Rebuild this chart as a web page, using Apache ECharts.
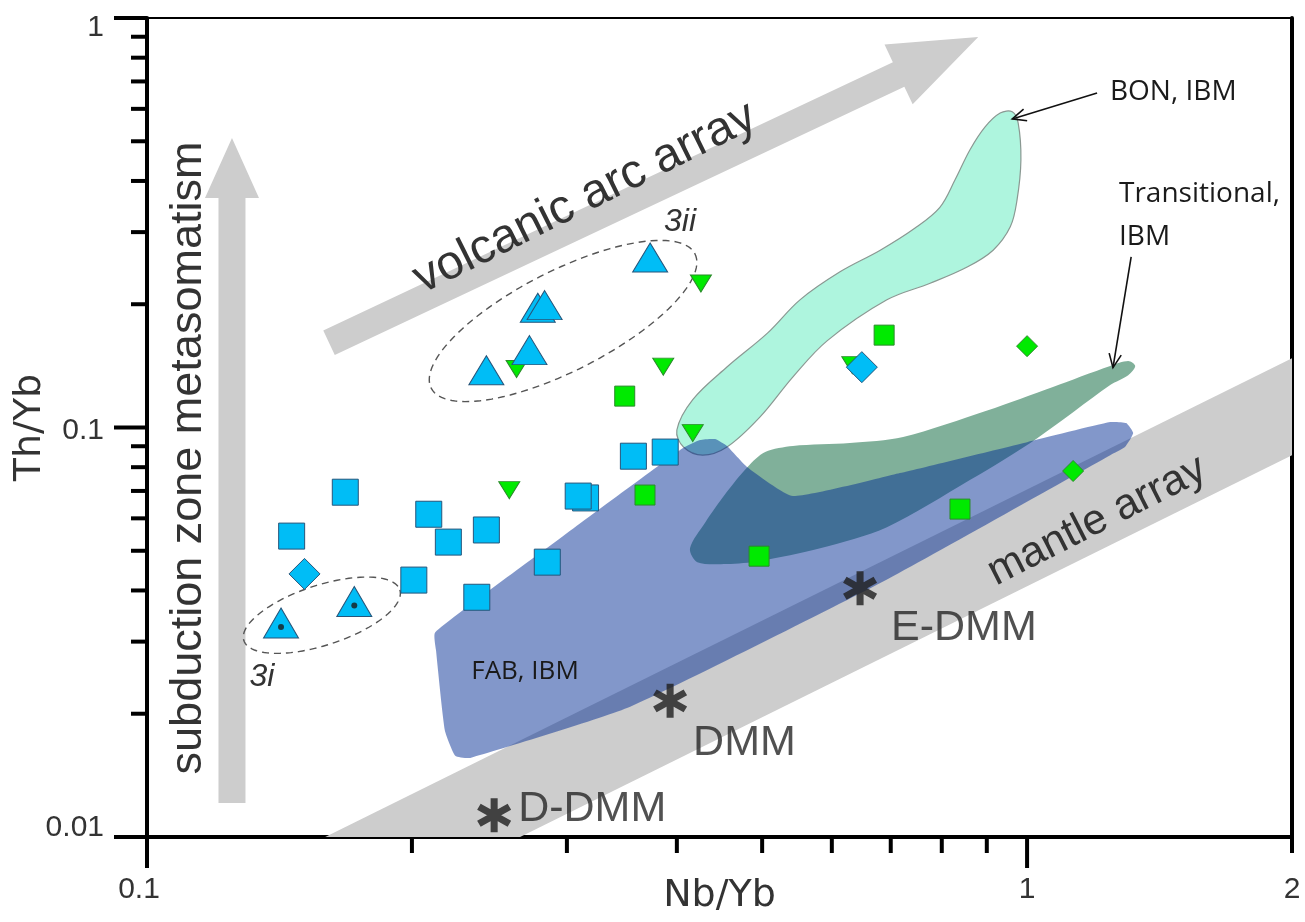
<!DOCTYPE html>
<html>
<head>
<meta charset="utf-8">
<script src="https://cdn.jsdelivr.net/npm/echarts@6/dist/echarts.min.js"></script>
<style>
  html, body { margin: 0; padding: 0; background: #fff; }
  #chart { width: 1305px; height: 922px; }
</style>
</head>
<body>
<div id="chart"></div>
<script>
// ---- Sample compositions: [Nb/Yb, Th/Yb] ----
const blueSquares = [
  [0.146, 0.0543], [0.168, 0.0695], [0.209, 0.0614], [0.220, 0.0525],
  [0.243, 0.0562], [0.201, 0.0424], [0.237, 0.0385], [0.285, 0.0469],
  [0.315, 0.0673], [0.309, 0.0680], [0.357, 0.0851], [0.388, 0.0871]
];
const blueDiamonds = [[0.151, 0.0439], [0.649, 0.1404]];
const blueTriangles = [[0.373, 0.260], [0.278, 0.196], [0.283, 0.199], [0.272, 0.1545], [0.243, 0.138]];
const blueTrianglesDotted = [[0.142, 0.0333], [0.172, 0.0376]];
const greenInvTriangles = [[0.263, 0.139], [0.386, 0.1408], [0.426, 0.2247], [0.258, 0.0703], [0.417, 0.0969], [0.633, 0.142]];
const greenSquares = [[0.349, 0.1193], [0.368, 0.0684], [0.496, 0.0485], [0.688, 0.1681], [0.839, 0.0632]];
const greenDiamonds = [[1.00, 0.158], [1.128, 0.0783]];

// ---- Mantle end-members ----
const endMemberNames = ['DMM', 'E-DMM', 'D-DMM'];
const endMemberValues = [[0.393, 0.0215], [0.646, 0.0405], [0.248, 0.0113]];

// ---- Axis ticks ----
const xMajorTicks = [0.1, 1];
const xMinorTicks = [0.2, 0.3, 0.4, 0.5, 0.6, 0.7, 0.8, 0.9, 2];
const yMajorTicks = [0.01, 0.1, 1];
const yMinorTicks = [0.02, 0.03, 0.04, 0.05, 0.06, 0.07, 0.08, 0.09, 0.2, 0.3, 0.4, 0.5, 0.6, 0.7, 0.8, 0.9];
const xTickValues = [0.1, 1, 2];
const xTickLabels = ['0.1', '1', '2'];
const yTickValues = [0.01, 0.1, 1];
const yTickLabels = ['0.01', '0.1', '1'];

// ---- Reference fields (outlines in Nb/Yb, Th/Yb) ----
const fabField = [
  [0.2125, 0.0316], [0.295, 0.0537], [0.4065, 0.0891], [0.425, 0.0932], [0.442, 0.0937],
  [0.456, 0.0901], [0.481, 0.0800], [0.542, 0.0680], [0.717, 0.0774], [1.000, 0.0921],
  [1.243, 0.1031], [1.296, 0.1025], [1.320, 0.0969], [1.292, 0.0896], [1.243, 0.0856],
  [0.681, 0.0417], [0.354, 0.0208], [0.233, 0.0156], [0.224, 0.0158], [0.218, 0.0182],
  [0.213, 0.0286]
];
const transitionalField = [
  [0.422, 0.0469], [0.414, 0.0507], [0.431, 0.0587], [0.454, 0.0688], [0.481, 0.0800],
  [0.504, 0.0871], [0.542, 0.0901], [0.629, 0.0916], [0.723, 0.0948], [0.901, 0.110],
  [1.070, 0.1256], [1.243, 0.1413], [1.303, 0.1453], [1.327, 0.1413], [1.303, 0.1342],
  [1.243, 0.127], [1.027, 0.0942], [0.861, 0.0744], [0.693, 0.0571], [0.582, 0.0507],
  [0.497, 0.0472], [0.456, 0.0464]
];
const bonField = [
  [0.962, 0.590], [0.977, 0.554], [0.984, 0.450], [0.974, 0.359], [0.957, 0.309],
  [0.915, 0.271], [0.855, 0.2465], [0.776, 0.225], [0.693, 0.205], [0.593, 0.163],
  [0.542, 0.133], [0.497, 0.106], [0.456, 0.0896], [0.428, 0.0856], [0.407, 0.0896],
  [0.400, 0.0986], [0.417, 0.117], [0.456, 0.1405], [0.507, 0.170], [0.552, 0.205],
  [0.613, 0.240], [0.681, 0.271], [0.746, 0.307], [0.796, 0.345], [0.828, 0.402],
  [0.861, 0.476], [0.896, 0.542], [0.932, 0.586]
];
const mantleArray = [[0.1594, 0.01], [0.2654, 0.01], [2, 0.0856], [2, 0.1477]];

// Trend arrows: [tail, tip]
const volcanicArcArrow = [[0.161, 0.161], [0.880, 0.899]];
const metasomatismArrow = [[0.1249, 0.0121], [0.1249, 0.509]];

// Group outlines (centres) and callout pointers [from, to]
const group3i = [0.158, 0.0348];
const group3ii = [0.297, 0.182];
const bonPointer = [[1.201, 0.656], [0.962, 0.567]];
const transitionalPointer = [[1.313, 0.261], [1.252, 0.140]];

const X_MIN = 0.1, X_MAX = 2, Y_MIN = 0.01, Y_MAX = 1;
const SANS = 'Liberation Sans, Arial, sans-serif';
const UI = 'Open Sans, Noto Sans, sans-serif';
const GREY = '#cdcdcd';

function polygonRender(outline, style, smooth) {
  return function (params, api) {
    const pts = outline.map(p => api.coord(p));
    return { type: 'polygon', shape: { points: pts, smooth: smooth || 0 }, style: style };
  };
}

function arrowRender(tail, tip, shaftW, headW, headLen) {
  return function (params, api) {
    const a = api.coord(tail), b = api.coord(tip);
    const dx = b[0] - a[0], dy = b[1] - a[1], L = Math.hypot(dx, dy);
    const ux = dx / L, uy = dy / L, nx = -uy, ny = ux;
    const hb = [b[0] - ux * headLen, b[1] - uy * headLen];
    const s = shaftW / 2, h = headW / 2;
    const pts = [
      [a[0] + nx * s, a[1] + ny * s], [hb[0] + nx * s, hb[1] + ny * s], [hb[0] + nx * h, hb[1] + ny * h],
      b, [hb[0] - nx * h, hb[1] - ny * h], [hb[0] - nx * s, hb[1] - ny * s], [a[0] - nx * s, a[1] - ny * s]
    ];
    return { type: 'polygon', shape: { points: pts }, style: { fill: GREY } };
  };
}

function ellipseRender(center, rx, ry, angleDeg) {
  return function (params, api) {
    const c = api.coord(center);
    const t = -angleDeg * Math.PI / 180;
    const pts = [];
    for (let i = 0; i < 120; i++) {
      const f = i / 120 * 2 * Math.PI;
      const ex = rx * Math.cos(f), ey = ry * Math.sin(f);
      pts.push([c[0] + ex * Math.cos(t) - ey * Math.sin(t), c[1] + ex * Math.sin(t) + ey * Math.cos(t)]);
    }
    return { type: 'polygon', shape: { points: pts }, style: { fill: null, stroke: '#555', lineWidth: 1.4, lineDash: [7, 5] } };
  };
}

function pointerRender(from, to) {
  return function (params, api) {
    const a = api.coord(from), b = api.coord(to);
    const ang = Math.atan2(a[1] - b[1], a[0] - b[0]);
    const hl = 15, spread = 0.42;
    const h1 = [b[0] + hl * Math.cos(ang + spread), b[1] + hl * Math.sin(ang + spread)];
    const h2 = [b[0] + hl * Math.cos(ang - spread), b[1] + hl * Math.sin(ang - spread)];
    return {
      type: 'group', children: [
        { type: 'line', shape: { x1: a[0], y1: a[1], x2: b[0], y2: b[1] }, style: { stroke: '#111', lineWidth: 1.6 } },
        { type: 'polyline', shape: { points: [h1, b, h2] }, style: { stroke: '#111', lineWidth: 1.6, fill: null } }
      ]
    };
  };
}

function shapeSeries(name, anchor, render, z) {
  return { type: 'custom', name: name, data: [anchor], renderItem: render, z: z, silent: true, animation: false };
}

function tickSeries(values, onX, len) {
  return {
    type: 'custom', z: 20, silent: true, animation: false,
    data: values.map(v => onX ? [v, Y_MIN] : [X_MIN, v]),
    renderItem: function (params, api) {
      const c = api.coord([api.value(0), api.value(1)]);
      const shape = onX ? { x1: c[0], y1: c[1], x2: c[0], y2: c[1] + len }
                        : { x1: c[0], y1: c[1], x2: c[0] - len, y2: c[1] };
      return { type: 'line', shape: shape, style: { stroke: '#000', lineWidth: 4 } };
    }
  };
}

function tickLabelSeries(values, labels, onX) {
  return {
    type: 'custom', z: 20, silent: true, animation: false,
    data: values.map(v => onX ? [v, Y_MIN] : [X_MIN, v]),
    renderItem: function (params, api) {
      const v = onX ? api.value(0) : api.value(1);
      const c = api.coord([api.value(0), api.value(1)]);
      const text = labels[params.dataIndex];
      let x, y, align;
      if (onX) {
        x = c[0] + (v === X_MIN ? -8 : 0); y = c[1] + 53; align = 'center';
      } else {
        x = c[0] - 43; y = c[1] + (v === Y_MAX ? 10 : v === Y_MIN ? -9 : 3); align = 'right';
      }
      return { type: 'text', x: x, y: y, style: { text: text, fontSize: 30, fontFamily: SANS, fill: '#333', align: align, verticalAlign: 'middle' } };
    }
  };
}

function scatter(name, data, symbol, size, fill, border, extra) {
  return Object.assign({
    type: 'scatter', name: name, data: data, symbol: symbol, symbolSize: size, z: 10, silent: true, animation: false,
    itemStyle: { color: fill, borderColor: border, borderWidth: 1, opacity: 1 }
  }, extra || {});
}

const BLUE = '#00bdf6', BLUE_EDGE = '#27557a';
const GREEN = '#00ea00', GREEN_EDGE = '#2b8a2b';
// six-armed asterisk used for the mantle end-members
const ASTERISK = 'path://M-2,-10L2,-10L2,10L-2,10Z M7.66,-6.73L9.66,-3.27L-7.66,6.73L-9.66,3.27Z M-9.66,-3.27L-7.66,-6.73L9.66,3.27L7.66,6.73Z';
const endMemberLabelOffset = { 'DMM': [6, 42], 'E-DMM': [14, 40], 'D-DMM': [7, -6] };

const option = {
  backgroundColor: '#fff',
  animation: false,
  grid: { left: 147, right: 13, top: 18, bottom: 85, show: true, borderColor: '#000', borderWidth: 2, backgroundColor: 'transparent' },
  xAxis: {
    type: 'log', logBase: 10, min: X_MIN, max: X_MAX,
    name: 'Nb/Yb', nameLocation: 'middle', nameGap: 40,
    nameTextStyle: { fontSize: 38, fontFamily: 'DejaVu Sans, sans-serif', color: '#333' },
    axisLine: { onZero: false, lineStyle: { color: '#000', width: 4 } },
    axisTick: { show: false }, axisLabel: { show: false }, splitLine: { show: false }, minorTick: { show: false }
  },
  yAxis: [{
    type: 'log', logBase: 10, min: Y_MIN, max: Y_MAX,
    name: 'Th/Yb', nameLocation: 'middle', nameGap: 98,
    nameTextStyle: { fontSize: 38, fontFamily: 'DejaVu Sans, sans-serif', color: '#333' },
    axisLine: { onZero: false, lineStyle: { color: '#000', width: 4 } },
    axisTick: { show: false }, axisLabel: { show: false }, splitLine: { show: false }, minorTick: { show: false }
  }, {
    type: 'log', logBase: 10, min: Y_MIN, max: Y_MAX, position: 'right',
    axisLine: { show: true, onZero: false, lineStyle: { color: '#000', width: 4 } },
    axisTick: { show: false }, axisLabel: { show: false }, splitLine: { show: false }
  }],
  graphic: [
    { type: 'text', x: 189, y: 458, rotation: Math.PI / 2, z: 30,
      style: { text: 'subduction zone metasomatism', fontSize: 45, fontFamily: SANS, fill: '#333', align: 'center', verticalAlign: 'middle' } },
    { type: 'text', x: 585, y: 198, rotation: 26.5 * Math.PI / 180, z: 30,
      style: { text: 'volcanic arc array', fontSize: 48, fontFamily: SANS, fill: '#333', align: 'center', verticalAlign: 'middle' } },
    { type: 'text', x: 1097, y: 521, rotation: 27 * Math.PI / 180, z: 30,
      style: { text: 'mantle array', fontSize: 43, fontFamily: SANS, fill: '#333', align: 'center', verticalAlign: 'middle' } },
    { type: 'text', x: 680, y: 222, z: 30,
      style: { text: '3ii', fontSize: 32, fontStyle: 'italic', fontFamily: SANS, fill: '#333', align: 'center', verticalAlign: 'middle' } },
    { type: 'text', x: 262, y: 677, z: 30,
      style: { text: '3i', fontSize: 32, fontStyle: 'italic', fontFamily: SANS, fill: '#333', align: 'center', verticalAlign: 'middle' } },
    { type: 'text', x: 525, y: 672, z: 30,
      style: { text: 'FAB, IBM', fontSize: 26, fontFamily: UI, fill: '#1a1a1a', align: 'center', verticalAlign: 'middle' } },
    { type: 'text', x: 1110, y: 92, z: 30,
      style: { text: 'BON, IBM', fontSize: 28, fontFamily: UI, fill: '#1a1a1a', align: 'left', verticalAlign: 'middle' } },
    { type: 'text', x: 1119, y: 216, z: 30,
      style: { text: 'Transitional,\nIBM', fontSize: 28, lineHeight: 43, fontFamily: UI, fill: '#1a1a1a', align: 'left', verticalAlign: 'middle' } }
  ],
  series: [
    // background trends
    shapeSeries('mantle array', mantleArray[0], polygonRender(mantleArray, { fill: GREY }), 1),
    shapeSeries('volcanic arc array', volcanicArcArrow[0], arrowRender(volcanicArcArrow[0], volcanicArcArrow[1], 27, 66, 88), 1),
    shapeSeries('subduction zone metasomatism', metasomatismArrow[0], arrowRender(metasomatismArrow[0], metasomatismArrow[1], 27, 54, 60), 1),
    // reference fields; the translucent FAB field lies over the other two
    shapeSeries('BON, IBM', bonField[0], polygonRender(bonField, { fill: '#aef5de', stroke: '#8a9892', lineWidth: 1.2 }, 0.35), 2),
    shapeSeries('Transitional, IBM', transitionalField[0], polygonRender(transitionalField, { fill: '#80b09a' }, 0.3), 3),
    shapeSeries('FAB, IBM', fabField[0], polygonRender(fabField, { fill: 'rgba(0,43,147,0.49)' }, 0.15), 4),
    // group outlines and callouts
    shapeSeries('3ii', group3ii, ellipseRender(group3ii, 148, 50, 27), 6),
    shapeSeries('3i', group3i, ellipseRender(group3i, 82, 30, 18), 6),
    shapeSeries('BON pointer', bonPointer[0], pointerRender(bonPointer[0], bonPointer[1]), 6),
    shapeSeries('Transitional pointer', transitionalPointer[0], pointerRender(transitionalPointer[0], transitionalPointer[1]), 6),
    // samples
    scatter('green triangles', greenInvTriangles, 'triangle', [21, 17], GREEN, GREEN_EDGE, { symbolRotate: 180 }),
    scatter('green squares', greenSquares, 'rect', 20, GREEN, GREEN_EDGE),
    scatter('green diamonds', greenDiamonds, 'diamond', 21, GREEN, GREEN_EDGE),
    scatter('blue squares', blueSquares, 'rect', 26, BLUE, BLUE_EDGE),
    scatter('blue diamonds', blueDiamonds, 'diamond', 31, BLUE, BLUE_EDGE),
    scatter('blue triangles', blueTriangles, 'triangle', [35, 29], BLUE, BLUE_EDGE),
    scatter('blue triangles 3i', blueTrianglesDotted, 'triangle', [35, 30], BLUE, BLUE_EDGE),
    scatter('3i centre', blueTrianglesDotted, 'circle', 6, '#1a1a1a', '#1a1a1a', { symbolOffset: [0, 4], z: 11, itemStyle: { color: '#1a1a1a', borderWidth: 0 } }),
    scatter('end members', endMemberNames.map((n, i) => ({
      name: n, value: endMemberValues[i],
      label: { offset: endMemberLabelOffset[n] }
    })), ASTERISK, 34, '#222', '#222', {
      label: {
        show: true, position: 'right', distance: 0, formatter: '{b}', fontSize: 43, fontFamily: SANS,
        color: '#262626', textBorderWidth: 0
      },
      itemStyle: { color: '#1e1e1e', borderWidth: 0 }
    }),
    // axis ticks and tick labels
    tickSeries(xMajorTicks, true, 31),
    tickSeries(xMinorTicks, true, 16),
    tickSeries(yMajorTicks, false, 33),
    tickSeries(yMinorTicks, false, 16),
    tickLabelSeries(xTickValues, xTickLabels, true),
    tickLabelSeries(yTickValues, yTickLabels, false)
  ]
};

const chart = echarts.init(document.getElementById('chart'), null, { renderer: 'canvas' });
chart.setOption(option);
</script>
</body>
</html>
